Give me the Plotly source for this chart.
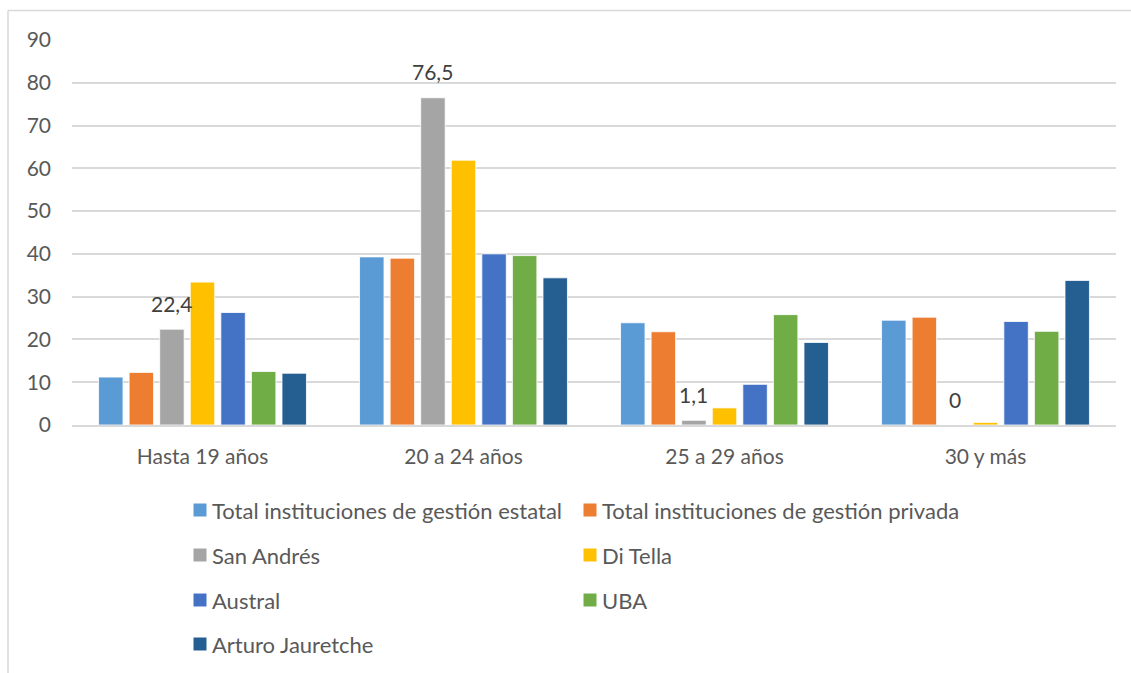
import plotly.graph_objects as go

# Age groups on the category axis
categories = ["Hasta 19 años", "20 a 24 años", "25 a 29 años", "30 y más"]

# Share of students (%) per age group for each institution
total_estatal = [11.2, 39.3, 23.9, 24.5]
total_privada = [12.3, 39.0, 21.8, 25.2]
san_andres = [22.4, 76.5, 1.1, 0]
di_tella = [33.4, 61.9, 4.0, 0.6]
austral = [26.3, 40.0, 9.5, 24.2]
uba = [12.5, 39.6, 25.8, 21.9]
arturo_jauretche = [12.1, 34.4, 19.3, 33.8]

series_names = [
    "Total instituciones de gestión estatal",
    "Total instituciones de gestión privada",
    "San Andrés",
    "Di Tella",
    "Austral",
    "UBA",
    "Arturo Jauretche",
]
series_values = [total_estatal, total_privada, san_andres, di_tella,
                 austral, uba, arturo_jauretche]
colors = ["#5B9BD5", "#ED7D31", "#A5A5A5", "#FFC000", "#4472C4", "#70AD47", "#255E91"]

y_ticks = [0, 10, 20, 30, 40, 50, 60, 70, 80, 90]

W, H = 1131, 673
ML, MR, MT, MB = 72, 15, 40, 248
PW, PH = W - ML - MR, H - MT - MB

FONT = "Lato, 'Open Sans', sans-serif"
TEXT_GRAY = "#595959"
GRID = "#d9d9d9"

BARGAP = 0.18
BARGROUPGAP = 0.2


def px_x(px):
    return (px - ML) / PW


def px_y(py):
    return (H - MB - py) / PH


fig = go.Figure()
for name, vals, col in zip(series_names, series_values, colors):
    fig.add_trace(go.Bar(
        x=categories, y=vals, name=name,
        marker=dict(color=col, line=dict(color="rgba(255,255,255,0.8)", width=1)),
        showlegend=False, hoverinfo="x+y+name",
    ))

# Value labels above the San Andrés bars (third bar of each group)
pitch = PW / len(categories) * (1 - BARGAP) / len(series_names)
sa_index = series_names.index("San Andrés")
offset = (sa_index - (len(series_names) - 1) / 2) * pitch
for cat, v in zip(categories, san_andres):
    label = ("%g" % v).replace(".", ",")
    fig.add_annotation(
        x=cat, y=v, xref="x", yref="y", text=label, showarrow=False,
        xshift=offset, yshift=26, yanchor="middle",
        font=dict(family=FONT, size=21, color="#404040"),
    )

# Legend drawn as two columns of swatches and labels
col_x = [200, 590]
row_y = [510, 555, 600, 644]
sw = 13
shapes = []
for i, (name, col) in enumerate(zip(series_names, colors)):
    cx = col_x[i % 2]
    cy = row_y[i // 2]
    shapes.append(dict(
        type="rect", xref="paper", yref="paper",
        x0=px_x(cx - sw / 2), x1=px_x(cx + sw / 2),
        y0=px_y(cy + sw / 2), y1=px_y(cy - sw / 2),
        fillcolor=col, line=dict(width=0),
    ))
    fig.add_annotation(
        x=px_x(cx + 10), y=px_y(cy), xref="paper", yref="paper",
        text=name, showarrow=False, xanchor="left", yanchor="middle",
        font=dict(family=FONT, size=22, color=TEXT_GRAY),
    )

# Chart area frame (left and top edges)
shapes.append(dict(type="line", xref="paper", yref="paper",
                   x0=px_x(8), x1=px_x(8), y0=px_y(10.5), y1=px_y(H + 5),
                   line=dict(color=GRID, width=1.5)))
shapes.append(dict(type="line", xref="paper", yref="paper",
                   x0=px_x(8), x1=px_x(W + 5), y0=px_y(10.5), y1=px_y(10.5),
                   line=dict(color=GRID, width=1.5)))

fig.update_layout(
    width=W, height=H,
    margin=dict(l=ML, r=MR, t=MT, b=MB, pad=0),
    paper_bgcolor="white", plot_bgcolor="white",
    barmode="group", bargap=BARGAP, bargroupgap=BARGROUPGAP,
    shapes=shapes,
    font=dict(family=FONT, size=21, color=TEXT_GRAY),
    xaxis=dict(
        showgrid=False, showline=True, linecolor=GRID, linewidth=1.5,
        ticks="", ticklabelstandoff=12,
        tickfont=dict(family=FONT, size=21, color=TEXT_GRAY),
    ),
    yaxis=dict(
        range=[0, 90], tickvals=y_ticks, showgrid=True, gridcolor=GRID,
        gridwidth=1.5, zeroline=False, showline=False, ticks="",
        ticklabelstandoff=20,
        tickfont=dict(family=FONT, size=21, color=TEXT_GRAY),
    ),
)

fig.write_html("out.html")
